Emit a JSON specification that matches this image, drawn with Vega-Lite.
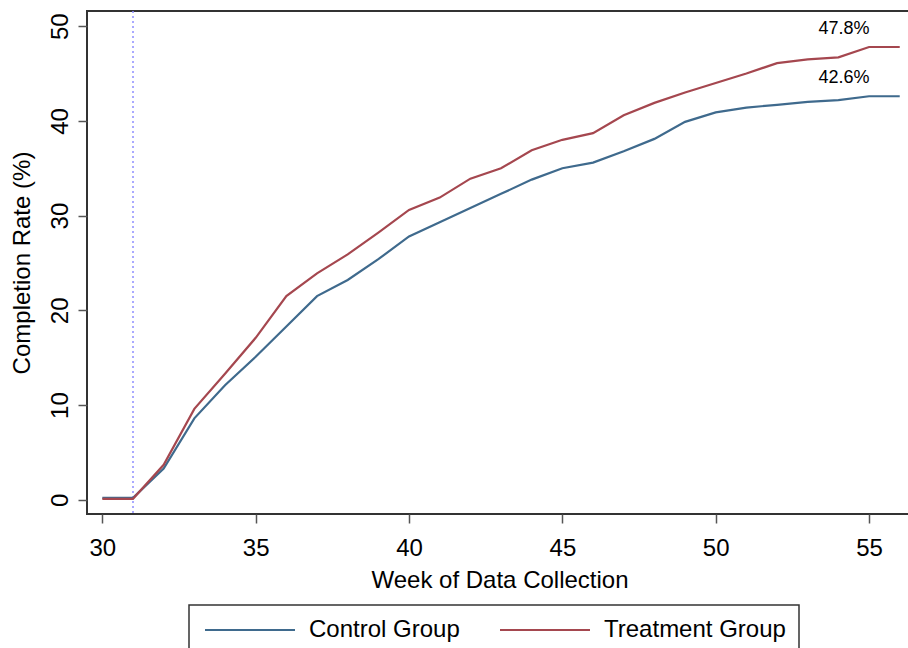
{
  "$schema": "https://vega.github.io/schema/vega-lite/v6.json",
  "width": 825,
  "height": 503,
  "autosize": {"type": "none"},
  "padding": {"left": 87, "top": 11, "right": 0, "bottom": 134},
  "background": "white",
  "config": {
    "font": "Liberation Sans",
    "view": {"stroke": "#333333", "strokeWidth": 2},
    "axis": {
      "grid": false,
      "domain": false,
      "tickColor": "#555555",
      "tickWidth": 1.5,
      "tickSize": 9,
      "labelFont": "Liberation Sans",
      "labelFontSize": 24,
      "labelColor": "#000000",
      "titleFont": "Liberation Sans",
      "titleFontSize": 24,
      "titleFontWeight": "normal",
      "titleColor": "#000000"
    },
    "legend": {
      "labelFont": "Liberation Sans",
      "labelFontSize": 24,
      "labelColor": "#000000",
      "labelLimit": 400
    }
  },
  "datasets": {
    "series": [
      {"week": 30, "group": "Control Group", "rate": 0.2},
      {"week": 31, "group": "Control Group", "rate": 0.2},
      {"week": 32, "group": "Control Group", "rate": 3.3},
      {"week": 33, "group": "Control Group", "rate": 8.6},
      {"week": 34, "group": "Control Group", "rate": 12.1},
      {"week": 35, "group": "Control Group", "rate": 15.1},
      {"week": 36, "group": "Control Group", "rate": 18.3},
      {"week": 37, "group": "Control Group", "rate": 21.5},
      {"week": 38, "group": "Control Group", "rate": 23.2},
      {"week": 39, "group": "Control Group", "rate": 25.4},
      {"week": 40, "group": "Control Group", "rate": 27.8},
      {"week": 41, "group": "Control Group", "rate": 29.3},
      {"week": 42, "group": "Control Group", "rate": 30.8},
      {"week": 43, "group": "Control Group", "rate": 32.3},
      {"week": 44, "group": "Control Group", "rate": 33.8},
      {"week": 45, "group": "Control Group", "rate": 35.0},
      {"week": 46, "group": "Control Group", "rate": 35.6},
      {"week": 47, "group": "Control Group", "rate": 36.8},
      {"week": 48, "group": "Control Group", "rate": 38.1},
      {"week": 49, "group": "Control Group", "rate": 39.9},
      {"week": 50, "group": "Control Group", "rate": 40.9},
      {"week": 51, "group": "Control Group", "rate": 41.4},
      {"week": 52, "group": "Control Group", "rate": 41.7},
      {"week": 53, "group": "Control Group", "rate": 42.0},
      {"week": 54, "group": "Control Group", "rate": 42.2},
      {"week": 55, "group": "Control Group", "rate": 42.6},
      {"week": 56, "group": "Control Group", "rate": 42.6},
      {"week": 30, "group": "Treatment Group", "rate": 0.1},
      {"week": 31, "group": "Treatment Group", "rate": 0.1},
      {"week": 32, "group": "Treatment Group", "rate": 3.7},
      {"week": 33, "group": "Treatment Group", "rate": 9.6},
      {"week": 34, "group": "Treatment Group", "rate": 13.3},
      {"week": 35, "group": "Treatment Group", "rate": 17.1},
      {"week": 36, "group": "Treatment Group", "rate": 21.5},
      {"week": 37, "group": "Treatment Group", "rate": 23.9},
      {"week": 38, "group": "Treatment Group", "rate": 25.9},
      {"week": 39, "group": "Treatment Group", "rate": 28.2},
      {"week": 40, "group": "Treatment Group", "rate": 30.6},
      {"week": 41, "group": "Treatment Group", "rate": 31.9},
      {"week": 42, "group": "Treatment Group", "rate": 33.9},
      {"week": 43, "group": "Treatment Group", "rate": 35.0},
      {"week": 44, "group": "Treatment Group", "rate": 36.9},
      {"week": 45, "group": "Treatment Group", "rate": 38.0},
      {"week": 46, "group": "Treatment Group", "rate": 38.7},
      {"week": 47, "group": "Treatment Group", "rate": 40.6},
      {"week": 48, "group": "Treatment Group", "rate": 41.9},
      {"week": 49, "group": "Treatment Group", "rate": 43.0},
      {"week": 50, "group": "Treatment Group", "rate": 44.0},
      {"week": 51, "group": "Treatment Group", "rate": 45.0},
      {"week": 52, "group": "Treatment Group", "rate": 46.1},
      {"week": 53, "group": "Treatment Group", "rate": 46.5},
      {"week": 54, "group": "Treatment Group", "rate": 46.7},
      {"week": 55, "group": "Treatment Group", "rate": 47.8},
      {"week": 56, "group": "Treatment Group", "rate": 47.8}
    ],
    "labels": [
      {"week": 55, "rate": 47.8, "label": "47.8%"},
      {"week": 55, "rate": 42.6, "label": "42.6%"}
    ],
    "marker": [{"week": 31}]
  },
  "layer": [
    {
      "data": {"name": "marker"},
      "mark": {"type": "rule", "color": "#8f8fff", "strokeWidth": 1.5, "strokeDash": [2, 3]},
      "encoding": {
        "x": {"field": "week", "type": "quantitative", "scale": {"domain": [29.5, 56.4], "nice": false, "zero": false}}
      }
    },
    {
      "data": {"name": "series"},
      "mark": {"type": "line", "strokeWidth": 2.2, "clip": true},
      "encoding": {
        "x": {
          "field": "week",
          "type": "quantitative",
          "scale": {"domain": [29.5, 56.4], "nice": false, "zero": false},
          "axis": {"title": "Week of Data Collection", "values": [30, 35, 40, 45, 50, 55], "labelPadding": 13, "titlePadding": 8}
        },
        "y": {
          "field": "rate",
          "type": "quantitative",
          "scale": {"domain": [-1.5, 51.6], "nice": false, "zero": false},
          "axis": {"title": "Completion Rate (%)", "values": [0, 10, 20, 30, 40, 50], "labelAngle": -90, "labelAlign": "center", "labelBaseline": "bottom", "labelPadding": 6, "titlePadding": 14}
        },
        "color": {
          "field": "group",
          "type": "nominal",
          "scale": {"domain": ["Control Group", "Treatment Group"], "range": ["#3f6a8d", "#a5474f"]},
          "legend": {
            "title": null,
            "orient": "none",
            "legendX": 102,
            "legendY": 594,
            "direction": "horizontal",
            "symbolType": "M-1,0H9",
            "symbolSize": 324,
            "symbolStrokeWidth": 2.2,
            "symbolFillColor": "transparent",
            "labelOffset": 83,
            "labelLimit": 400,
            "columnPadding": 35,
            "padding": 13,
            "strokeColor": "#333333",
            "encode": {"legend": {"update": {"strokeWidth": {"value": 1.5}}}}
          }
        }
      }
    },
    {
      "data": {"name": "labels"},
      "mark": {"type": "text", "fontSize": 18, "color": "#000000", "dx": -25, "dy": -18, "align": "center", "baseline": "middle"},
      "encoding": {
        "x": {"field": "week", "type": "quantitative"},
        "y": {"field": "rate", "type": "quantitative"},
        "text": {"field": "label", "type": "nominal"}
      }
    }
  ]
}
